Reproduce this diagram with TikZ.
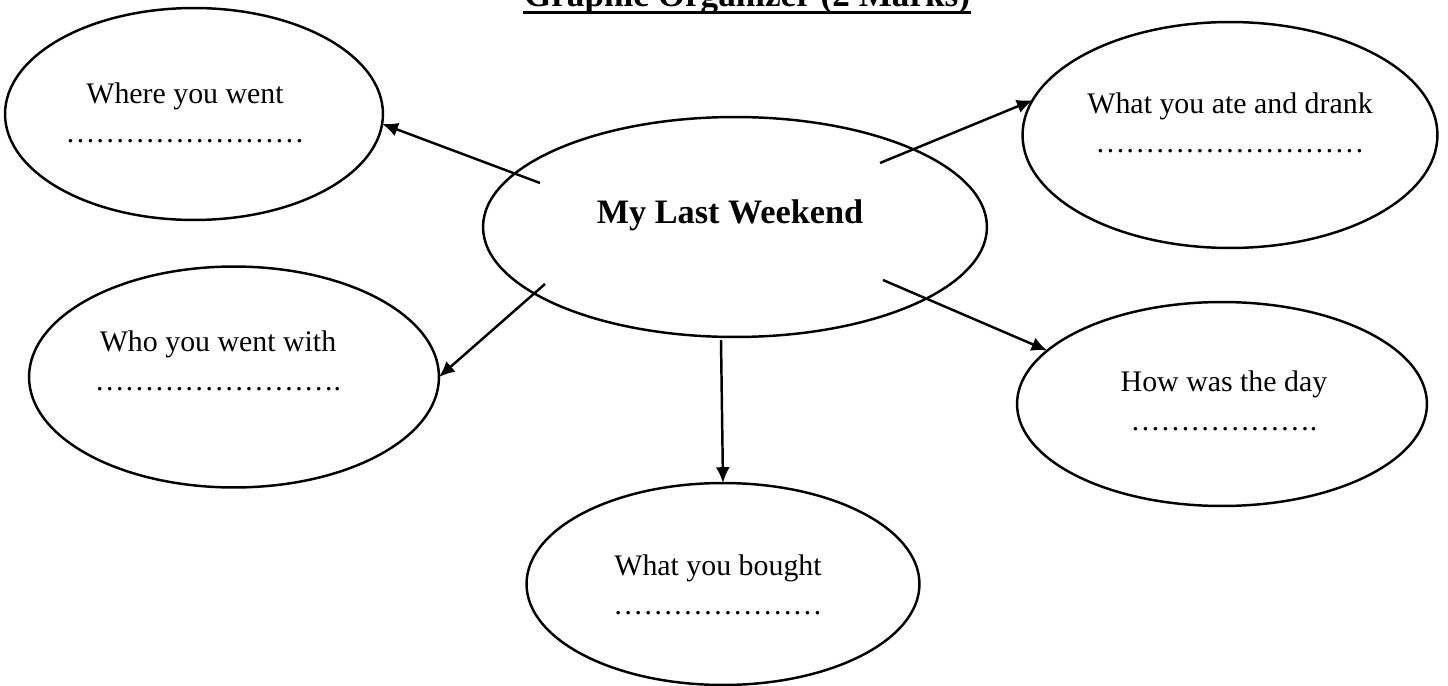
\documentclass[tikz,border=0pt]{standalone}
\usepackage{fontspec}
\setmainfont{Liberation Serif}
\usetikzlibrary{arrows.meta,shapes.geometric}

\newcommand{\fillin}[1]{\foreach \k in {1,...,#1}{…}}

\begin{document}
\begin{tikzpicture}[x=0.02cm,y=-0.02cm,->,>={Latex[length=9pt,width=8pt]},line width=1.4pt,
  bubble/.style={ellipse,draw,inner sep=0pt,outer sep=0pt},
  bubble text/.style={anchor=north,align=center,inner sep=0pt,font=\fontsize{17}{22}\selectfont}]

  \useasboundingbox (0,0) rectangle (1448,686);

  \node[anchor=base,inner sep=0pt,font=\fontsize{20}{24}\selectfont\bfseries] (title) at (747,7) {Graphic Organizer (2 Marks)};
  \draw[-,line width=2pt] ([yshift=-0.11cm]title.base west) -- ([yshift=-0.11cm]title.base east);

  \node[bubble,minimum width=10.08cm,minimum height=4.4cm] (week) at (735,227) {};
  \node[anchor=base,inner sep=0pt,font=\fontsize{19.5}{22}\selectfont\bfseries] (weektext) at (730,223) {My Last Weekend};

  \node[bubble,minimum width=7.56cm,minimum height=4.24cm] (where) at (194,114) {};
  \node[bubble text] (wheretext) at (185,82) {Where you went\\\fillin{8}};

  \node[bubble,minimum width=8.3cm,minimum height=4.52cm] (ate) at (1230,135) {};
  \node[bubble text] (atetext) at (1230,92) {What you ate and drank\\\fillin{9}};

  \node[bubble,minimum width=8.2cm,minimum height=4.42cm] (who) at (234,377) {};
  \node[bubble text] (whotext) at (218,330) {Who you went with\\\fillin{8}.};

  \node[bubble,minimum width=8.2cm,minimum height=4.08cm] (how) at (1222,404) {};
  \node[bubble text] (howtext) at (1224,370) {How was the day\\\fillin{6}.};

  \node[bubble,minimum width=7.86cm,minimum height=4.04cm] (bought) at (723,584) {};
  \node[bubble text] (boughttext) at (718,554) {What you bought\\\fillin{7}};

  % arrows leave from inside the middle ellipse
  \coordinate (w1) at (540,183);
  \coordinate (w2) at (880,163);
  \coordinate (w3) at (545,284);
  \coordinate (w4) at (883,280);
  \coordinate (w5) at (721,340);

  \path
    (w1) edge (where.-3)
    (w2) edge (ate.170)
    (w3) edge (who.0)
    (w4) edge (how.163)
    (w5) edge (bought.north);

\end{tikzpicture}
\end{document}
